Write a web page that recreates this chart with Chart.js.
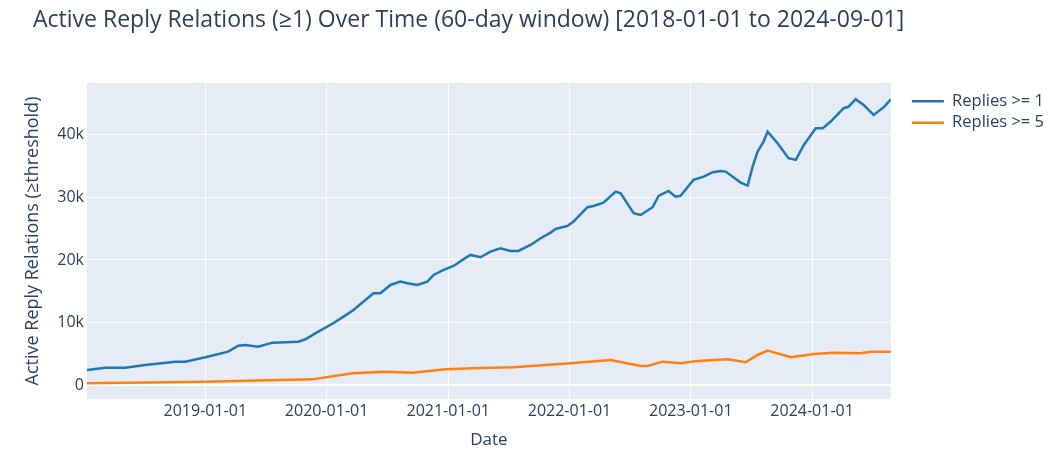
<!DOCTYPE html>
<html>
<head>
<meta charset="utf-8">
<script src="https://cdn.jsdelivr.net/npm/chart.js@4.4.1/dist/chart.umd.min.js"></script>
<style>
  html, body { margin: 0; padding: 0; background: #fff; }
  #wrap { position: relative; width: 1056px; height: 456px; }
  #title {
    position: absolute; left: 33px; top: 2px; margin: 0; font-weight: normal;
    font: 23px 'Open Sans', sans-serif; color: #2a3f5f; white-space: nowrap;
  }
</style>
</head>
<body>
<div id="wrap">
  <h1 id="title">Active Reply Relations (≥1) Over Time (60-day window) [2018-01-01 to 2024-09-01]</h1>
  <canvas id="chart"></canvas>
</div>
<script>
const datesGe1 = [
  '2018-01-10', '2018-03-06', '2018-05-05', '2018-07-04', '2018-10-03', '2018-11-02',
  '2019-01-01', '2019-03-11', '2019-04-10', '2019-05-01', '2019-06-09', '2019-07-22',
  '2019-10-08', '2019-10-29', '2019-12-07', '2020-01-21', '2020-02-21', '2020-03-22',
  '2020-05-03', '2020-05-21', '2020-06-11', '2020-07-11', '2020-08-10', '2020-08-31',
  '2020-09-30', '2020-10-30', '2020-11-18', '2020-12-18', '2021-01-17', '2021-02-28',
  '2021-03-09', '2021-04-08', '2021-05-08', '2021-06-07', '2021-07-07', '2021-07-31',
  '2021-09-06', '2021-10-06', '2021-11-05', '2021-11-20', '2021-12-26', '2022-01-13',
  '2022-02-24', '2022-03-14', '2022-04-13', '2022-05-20', '2022-06-04', '2022-07-13',
  '2022-08-03', '2022-09-08', '2022-09-26', '2022-10-26', '2022-11-16', '2022-12-01',
  '2023-01-09', '2023-02-09', '2023-03-08', '2023-04-01', '2023-04-16', '2023-05-31',
  '2023-06-21', '2023-07-06', '2023-07-21', '2023-08-08', '2023-08-20', '2023-09-19',
  '2023-10-22', '2023-11-13', '2023-12-07', '2024-01-12', '2024-02-02', '2024-02-26',
  '2024-04-05', '2024-04-20', '2024-05-11', '2024-06-04', '2024-07-04', '2024-08-04',
  '2024-08-25',
];
const repliesGe1 = [
  2400, 2770, 2770, 3200, 3730, 3730,
  4430, 5330, 6290, 6400, 6130, 6770,
  6930, 7310, 8530, 9870, 10930, 12000,
  13870, 14670, 14670, 16000, 16530, 16270,
  16000, 16530, 17600, 18400, 19040, 20530,
  20800, 20430, 21330, 21870, 21440, 21440,
  22400, 23470, 24370, 24960, 25440, 26130,
  28430, 28640, 29170, 30930, 30670, 27470,
  27200, 28430, 30240, 31040, 30130, 30240,
  32800, 33330, 34030, 34240, 34130, 32370,
  31890, 34930, 37330, 38930, 40530, 38670,
  36270, 36000, 38400, 41070, 41070, 42130,
  44270, 44530, 45710, 44800, 43200, 44430,
  45700,
];

const datesGe5 = [
  '2018-01-10', '2019-01-01', '2019-11-19', '2020-03-19', '2020-06-26', '2020-09-15',
  '2020-12-24', '2021-04-08', '2021-07-16', '2022-01-04', '2022-05-05', '2022-08-03',
  '2022-08-24', '2022-10-08', '2022-12-01', '2023-01-21', '2023-04-22', '2023-06-15',
  '2023-07-21', '2023-08-20', '2023-10-29', '2024-01-06', '2024-03-06', '2024-05-26',
  '2024-06-25', '2024-08-25',
];
const repliesGe5 = [
  270, 530, 900, 1870, 2130, 1970,
  2510, 2700, 2830, 3470, 4000, 3040,
  3040, 3730, 3470, 3840, 4110, 3630,
  4800, 5490, 4430, 4960, 5170, 5070,
  5330, 5330,
];

const yearTicks = ['2019-01-01', '2020-01-01', '2021-01-01', '2022-01-01', '2023-01-01', '2024-01-01'];
const valueTicks = [0, 10000, 20000, 30000, 40000];
const xRange = ['2018-01-10', '2024-08-25'];
const yRange = [-2240, 48300];

const ink = '#2a3f5f';
const fmtK = v => (v === 0 ? '0' : `${v / 1000}k`);
const fmtDate = v => new Date(v).toISOString().slice(0, 10);
const toPoints = (dates, values) => dates.map((d, i) => ({ x: Date.parse(d), y: values[i] }));

Chart.defaults.font.family = "'Open Sans', sans-serif";
Chart.defaults.color = ink;

const plotBg = {
  id: 'plotBg',
  beforeDraw(chart) {
    const { ctx, chartArea: a } = chart;
    ctx.save();
    ctx.fillStyle = '#e5ecf6';
    ctx.fillRect(a.left, a.top, a.right - a.left, a.bottom - a.top);
    ctx.restore();
  },
};

// nudge the legend away from the plot, like plotly does
const legendGap = {
  id: 'legendGap',
  afterLayout(chart) {
    const lg = chart.legend;
    if (!lg) return;
    lg.left += 16;
    lg.right += 16;
    lg.top += 5;
  },
};

new Chart(document.getElementById('chart'), {
  type: 'line',
  data: {
    datasets: [
      {
        label: 'Replies >= 1',
        data: toPoints(datesGe1, repliesGe1),
        borderColor: '#1f77b4',
        backgroundColor: '#1f77b4',
        borderWidth: 2.5,
        pointRadius: 0,
        tension: 0,
      },
      {
        label: 'Replies >= 5',
        data: toPoints(datesGe5, repliesGe5),
        borderColor: '#ff7f0e',
        backgroundColor: '#ff7f0e',
        borderWidth: 2.5,
        pointRadius: 0,
        tension: 0,
      },
    ],
  },
  options: {
    responsive: true,
    maintainAspectRatio: false,
    animation: false,
    layout: { padding: { top: 83, right: 18, bottom: 0, left: 0 } },
    plugins: {
      title: { display: false },
      tooltip: { enabled: false },
      legend: {
        position: 'right',
        align: 'start',
        labels: {
          usePointStyle: true,
          pointStyle: 'line',
          pointStyleWidth: 32,
          boxHeight: 16,
          padding: 5,
          color: ink,
          font: { size: 16.5 },
        },
      },
    },
    scales: {
      x: {
        type: 'linear',
        min: Date.parse(xRange[0]),
        max: Date.parse(xRange[1]),
        afterBuildTicks: scale => { scale.ticks = yearTicks.map(d => ({ value: Date.parse(d) })); },
        afterFit: scale => { scale.height = 57; },
        ticks: { callback: fmtDate, maxRotation: 0, autoSkip: false, padding: 3, font: { size: 16 }, color: ink },
        grid: { color: '#ffffff', lineWidth: 1, drawTicks: false },
        border: { display: false },
        title: { display: true, text: 'Date', font: { size: 17 }, color: ink, padding: { top: 0, bottom: 6 } },
      },
      y: {
        min: yRange[0],
        max: yRange[1],
        afterBuildTicks: scale => { scale.ticks = valueTicks.map(v => ({ value: v })); },
        afterFit: scale => { scale.width = 87; },
        ticks: { callback: fmtK, padding: 3, font: { size: 16 }, color: ink },
        grid: {
          color: '#ffffff',
          lineWidth: ctx => (ctx.tick && ctx.tick.value === 0 ? 2 : 1),
          drawTicks: false,
        },
        border: { display: false },
        title: {
          display: true,
          text: 'Active Reply Relations (≥threshold)',
          font: { size: 18 },
          color: ink,
          padding: { top: 22, bottom: 0 },
        },
      },
    },
  },
  plugins: [plotBg, legendGap],
});
</script>
</body>
</html>
